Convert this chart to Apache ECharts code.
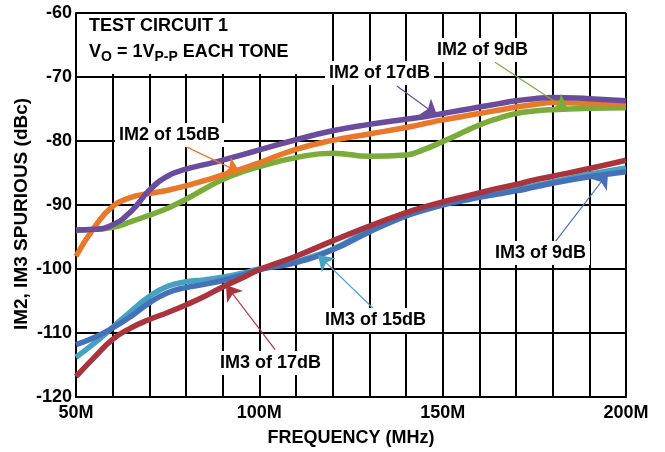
<!DOCTYPE html>
<html>
<head>
<meta charset="utf-8">
<script src="https://cdn.jsdelivr.net/npm/echarts@6/dist/echarts.min.js"></script>
<style>
html,body{margin:0;padding:0;background:#fff;}
#chart{width:665px;height:452px;}
</style>
</head>
<body>
<div id="chart"></div>
<script>
// Frequency (MHz)
var freqs = [50, 55, 60, 65, 70, 75, 80, 85, 90, 95, 100, 110, 120, 130, 140, 145, 150, 155, 160, 165, 170, 175, 180, 190, 200];
// IM2 series (dBc)
var im2_17dB = [-93.9, -93.8, -93.1, -91.0, -87.7, -85.5, -84.4, -83.7, -83.0, -82.2, -81.4, -79.8, -78.4, -77.4, -76.6, -76.2, -75.7, -75.2, -74.7, -74.2, -73.7, -73.4, -73.2, -73.4, -73.7];
var im2_15dB = [-98.0, -93.5, -90.2, -88.8, -88.2, -87.7, -87.0, -86.2, -85.3, -84.4, -83.4, -81.3, -79.9, -78.9, -77.9, -77.3, -76.7, -76.2, -75.7, -75.2, -74.7, -74.3, -74.0, -74.1, -74.2];
var im2_9dB  = [-94.0, -93.8, -93.5, -92.6, -91.6, -90.5, -89.1, -87.5, -86.0, -84.9, -84.0, -82.6, -81.9, -82.4, -82.2, -81.3, -80.1, -78.8, -77.5, -76.5, -75.7, -75.3, -75.1, -74.9, -74.8];
// IM3 series (dBc)
var im3_9dB  = [-111.8, -110.7, -109.2, -107.4, -105.3, -103.7, -102.9, -102.4, -101.8, -101.0, -100.1, -99.0, -97.0, -94.2, -91.7, -90.8, -90.0, -89.4, -88.8, -88.3, -87.8, -87.2, -86.6, -85.6, -84.8];
var im3_15dB = [-113.8, -111.6, -109.1, -106.6, -104.3, -102.7, -102.0, -101.7, -101.3, -100.7, -100.0, -98.8, -96.9, -93.9, -91.6, -90.7, -89.9, -89.3, -88.7, -88.1, -87.6, -87.0, -86.4, -85.2, -84.2];
var im3_17dB = [-116.8, -113.8, -111.0, -109.2, -107.9, -106.8, -105.6, -104.3, -102.8, -101.5, -100.1, -98.0, -95.6, -93.3, -91.2, -90.3, -89.5, -88.8, -88.1, -87.4, -86.8, -86.1, -85.5, -84.3, -83.0];
// Axis ticks
var xTickLabels = {50: '50M', 100: '100M', 150: '150M', 200: '200M'};
var yMin = -120, yMax = -60, yStep = 10;
var xMin = 50, xMax = 200, xStep = 10;
// Annotation arrows: [fromFreq, fromDb, toFreq, toDb]
var arrowIM2_15 = [79.7, -80.8, 94.7, -84.9];
var arrowIM2_17 = [137.5, -71.4, 148.5, -76.0];
var arrowIM2_9  = [164.3, -67.7, 184.2, -75.2];
var arrowIM3_9  = [180.1, -96.2, 195.1, -85.0];
var arrowIM3_15 = [131.5, -106.4, 116.0, -97.8];
var arrowIM3_17 = [104.3, -112.6, 90.9, -102.5];

var colors = {
  im2_17: '#6a4c9c', im2_15: '#e8792b', im2_9: '#7bab3b',
  im3_9: '#4471b7', im3_15: '#47a2c2', im3_17: '#a8343e'
};
var FONT = '"Liberation Sans", Arial, sans-serif';

function pairs(vals) { return freqs.map(function (f, i) { return [f, vals[i]]; }); }
function arrow(a, color) {
  return {
    silent: true, symbol: ['none', 'arrow'], symbolSize: 15, animation: false,
    label: {show: false},
    lineStyle: {type: 'solid', color: color, width: 1.2},
    data: [[{coord: [a[0], a[1]]}, {coord: [a[2], a[3]]}]]
  };
}
function line(name, vals, color, z, arr) {
  return {
    name: name, type: 'line', data: pairs(vals), smooth: 0.5, showSymbol: false,
    lineStyle: {color: color, width: 5.5}, itemStyle: {color: color}, z: z,
    markLine: arrow(arr, color)
  };
}
function label(text, left, cy) {
  return {
    type: 'text', x: left - 4, y: cy, z: 100,
    style: {text: text, font: 'bold 18px ' + FONT, fill: '#000', align: 'left', verticalAlign: 'middle',
            backgroundColor: '#fff', padding: [3, 4]}
  };
}

var chart = echarts.init(document.getElementById('chart'), null, {renderer: 'canvas'});
chart.setOption({
  animation: false,
  backgroundColor: '#fff',
  grid: {left: 76, right: 39, top: 13, bottom: 55, show: false},
  xAxis: {
    type: 'value', min: xMin, max: xMax, interval: xStep,
    axisLine: {show: true, onZero: false, lineStyle: {color: '#000', width: 2}},
    axisTick: {show: false},
    splitLine: {show: true, lineStyle: {color: '#000', width: 2}},
    axisLabel: {
      color: '#000', fontFamily: FONT, fontWeight: 'bold', fontSize: 18, margin: 7,
      formatter: function (v) { return xTickLabels[v] || ''; }
    },
    name: 'FREQUENCY (MHz)', nameLocation: 'middle', nameGap: 32,
    nameTextStyle: {color: '#000', fontFamily: FONT, fontWeight: 'bold', fontSize: 18}
  },
  yAxis: {
    type: 'value', min: yMin, max: yMax, interval: yStep,
    axisLine: {show: true, onZero: false, lineStyle: {color: '#000', width: 2}},
    axisTick: {show: false},
    splitLine: {show: true, lineStyle: {color: '#000', width: 2}},
    axisLabel: {color: '#000', fontFamily: FONT, fontWeight: 'bold', fontSize: 18, margin: 4}
  },
  series: [
    line('IM2 of 9dB', im2_9dB, colors.im2_9, 2, arrowIM2_9),
    line('IM2 of 15dB', im2_15dB, colors.im2_15, 3, arrowIM2_15),
    line('IM2 of 17dB', im2_17dB, colors.im2_17, 4, arrowIM2_17),
    line('IM3 of 15dB', im3_15dB, colors.im3_15, 2, arrowIM3_15),
    line('IM3 of 9dB', im3_9dB, colors.im3_9, 3, arrowIM3_9),
    line('IM3 of 17dB', im3_17dB, colors.im3_17, 4, arrowIM3_17)
  ],
  graphic: [
    {type: 'rect', z: 90, shape: {x: 77, y: 14, width: 251, height: 60}, style: {fill: '#fff'}},
    {type: 'text', x: 89, y: 26, z: 100,
     style: {text: 'TEST CIRCUIT 1', font: 'bold 18px ' + FONT, fill: '#000', align: 'left', verticalAlign: 'middle'}},
    {type: 'text', x: 89, y: 52, z: 100,
     style: {
       text: '{m|V}{s|O}{m| = 1V}{s|P-P}{m| EACH TONE}', align: 'left', verticalAlign: 'middle',
       rich: {
         m: {font: 'bold 18px ' + FONT, fill: '#000', lineHeight: 22},
         s: {font: 'bold 14px ' + FONT, fill: '#000', lineHeight: 14, padding: [10, 0, 0, 0]}
       }
     }},
    label('IM2 of 15dB', 119, 135),
    label('IM2 of 17dB', 329, 73),
    label('IM2 of 9dB', 437, 50),
    label('IM3 of 9dB', 495, 253),
    label('IM3 of 15dB', 325, 320),
    label('IM3 of 17dB', 220, 363),
    {type: 'text', x: 22, y: 214, rotation: Math.PI / 2, z: 100,
     style: {text: 'IM2, IM3 SPURIOUS (dBc)', font: 'bold 19px ' + FONT, fill: '#000', align: 'center', verticalAlign: 'middle'}}
  ]
});
</script>
</body>
</html>
